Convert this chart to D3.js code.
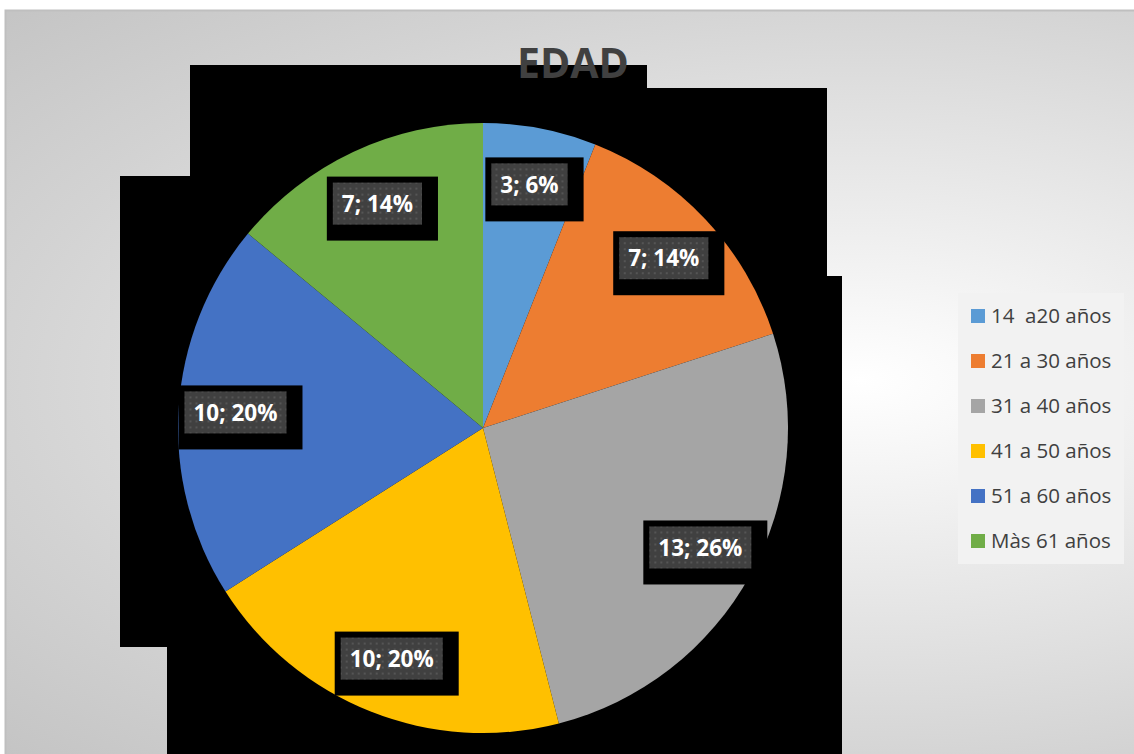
<!DOCTYPE html>
<html>
<head>
<meta charset="utf-8">
<script src="https://cdn.jsdelivr.net/npm/d3@7"></script>
<style>
  html, body { margin: 0; padding: 0; background: #fff; }
  svg { display: block; }
</style>
</head>
<body>
<div id="chart"></div>
<script>
// categories and values
const categories = ["14  a20 años", "21 a 30 años", "31 a 40 años", "41 a 50 años", "51 a 60 años", "Màs 61 años"];
const counts = [3, 7, 13, 10, 10, 7];
const percents = [6, 14, 26, 20, 20, 14];
const colors = ["#5B9BD5", "#ED7D31", "#A5A5A5", "#FFC000", "#4472C4", "#70AD47"];
const title = "EDAD";

const width = 1134;
const height = 754;
const cx = 483, cy = 428, radius = 305;
const font = "'Open Sans', Lato, sans-serif";

const data = categories.map((c, i) => ({ name: c, value: counts[i], pct: percents[i] }));

const svg = d3.select("#chart")
  .append("svg")
  .attr("width", width)
  .attr("height", height);

const defs = svg.append("defs");
// elliptical light spot to the right of the pie
const grad = defs.append("radialGradient")
  .attr("id", "bg")
  .attr("gradientUnits", "userSpaceOnUse")
  .attr("cx", 0).attr("cy", 0).attr("r", 1190)
  .attr("gradientTransform", "translate(860,380) scale(1,0.455)");
grad.append("stop").attr("offset", "0%").attr("stop-color", "#ffffff");
grad.append("stop").attr("offset", "72%").attr("stop-color", "#d3d3d3");
grad.append("stop").attr("offset", "100%").attr("stop-color", "#c4c4c4");

const pat = defs.append("pattern")
  .attr("id", "dots")
  .attr("patternUnits", "userSpaceOnUse")
  .attr("width", 6).attr("height", 6);
pat.append("rect").attr("width", 6).attr("height", 6).attr("fill", "#404040");
pat.append("rect").attr("x", 2).attr("y", 2).attr("width", 2).attr("height", 2).attr("fill", "#555555");

// chart area
svg.append("rect")
  .attr("x", 5.5).attr("y", 10.5)
  .attr("width", width).attr("height", height)
  .attr("fill", "url(#bg)")
  .attr("stroke", "#bfbfbf")
  .attr("stroke-width", 2);

// the black block behind the pie (broken shadow as rendered)
const shadow = [[190,65],[647,65],[647,88],[827,88],[827,276],[842,276],[842,754],[167,754],[167,647],[120,647],[120,176],[190,176]];
svg.append("path")
  .attr("d", d3.line()(shadow) + "Z")
  .attr("fill", "#000");

// title
svg.append("text")
  .attr("x", 573).attr("y", 78)
  .attr("text-anchor", "middle")
  .attr("font-family", font)
  .attr("font-weight", "bold")
  .attr("font-size", 41)
  .attr("fill", "#404040")
  .text(title);

// pie
const pie = d3.pie().sort(null).value(d => d.value);
const arcs = pie(data);
const arc = d3.arc().innerRadius(0).outerRadius(radius);

const g = svg.append("g").attr("transform", `translate(${cx},${cy})`);
g.selectAll("path")
  .data(arcs)
  .join("path")
    .attr("fill", (d, i) => colors[i])
    .attr("d", arc);

// data labels
const labelR = 248;
const arcLabel = d3.arc().innerRadius(labelR).outerRadius(labelR);
const lbl = g.selectAll("g.lbl")
  .data(arcs)
  .join("g")
    .attr("class", "lbl")
    .attr("transform", d => `translate(${arcLabel.centroid(d)})`);

lbl.each(function(d) {
  const el = d3.select(this);
  const txt = `${d.data.value}; ${d.data.pct}%`;
  const t = el.append("text")
    .attr("text-anchor", "middle")
    .attr("dy", "0.36em")
    .attr("font-family", font)
    .attr("font-weight", "bold")
    .attr("font-size", 22.5)
    .attr("fill", "#fff")
    .text(txt);
  const w = t.node().getComputedTextLength() + 18;
  const h = 42;
  el.insert("rect", "text")
    .attr("x", -w / 2 - 6).attr("y", -h / 2 - 6)
    .attr("width", w + 22).attr("height", h + 22)
    .attr("fill", "#000");
  el.insert("rect", "text")
    .attr("x", -w / 2).attr("y", -h / 2)
    .attr("width", w).attr("height", h)
    .attr("fill", "url(#dots)");
});

// legend
const legend = svg.append("g");
legend.append("rect")
  .attr("x", 958).attr("y", 293)
  .attr("width", 166).attr("height", 271)
  .attr("fill", "#f2f2f2");

const ly = d3.scalePoint().domain(categories).range([316, 541]);
const item = legend.selectAll("g.item")
  .data(categories)
  .join("g")
    .attr("class", "item")
    .attr("transform", d => `translate(971,${ly(d)})`);
item.append("rect")
  .attr("x", 0).attr("y", -7)
  .attr("width", 14).attr("height", 14)
  .attr("fill", (d, i) => colors[i]);
item.append("text")
  .attr("x", 20).attr("dy", "0.36em")
  .attr("xml:space", "preserve")
  .style("white-space", "pre")
  .attr("font-family", font)
  .attr("font-size", 20.5)
  .attr("fill", "#404040")
  .text(d => d);
</script>
</body>
</html>
